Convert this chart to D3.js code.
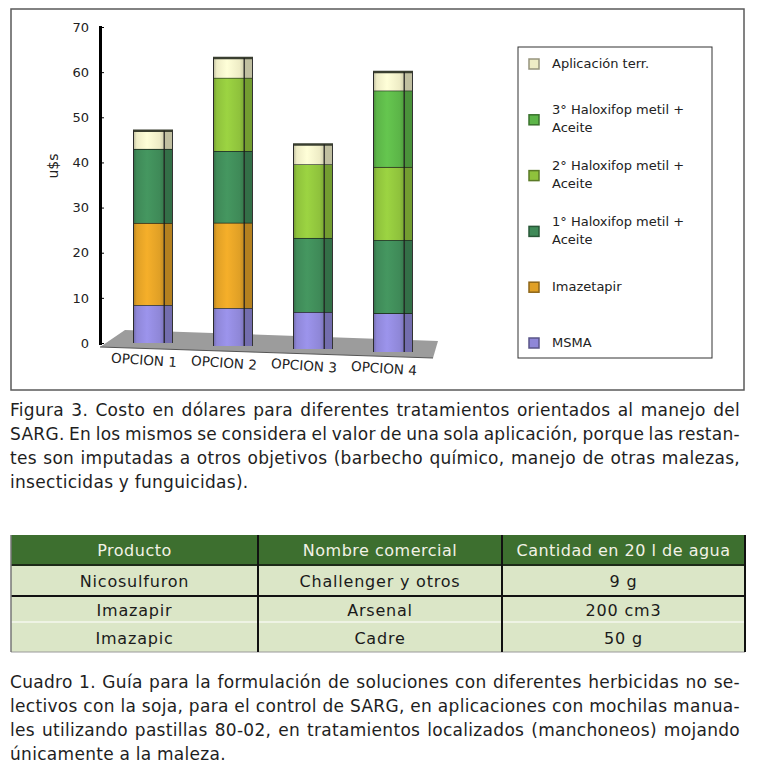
<!DOCTYPE html>
<html>
<head>
<meta charset="utf-8">
<script src="https://cdn.jsdelivr.net/npm/d3@7"></script>
<style>
  body { margin: 0; background: #fff; }
  svg { display: block; }
  .tick text { font-family: "DejaVu Sans", sans-serif; font-size: 13px; fill: #222; }
</style>
</head>
<body>
<svg id="fig" width="760" height="769"></svg>
<script>
// data (u$s per option, bottom to top of each stack)
var options = ['OPCION 1', 'OPCION 2', 'OPCION 3', 'OPCION 4'];
var msma       = [8.4, 8.4, 8.2, 8.6];
var imazetapir = [18.2, 18.9, 0, 0];
var halox1     = [16.4, 15.9, 16.4, 16.2];
var halox2     = [0, 16.2, 16.3, 16.2];
var halox3     = [0, 0, 0, 16.9];
var aplicacion = [4.0, 4.4, 4.4, 4.1];
var yTicks = [0, 10, 20, 30, 40, 50, 60, 70];

var seriesKeys = ['msma', 'imazetapir', 'halox1', 'halox2', 'halox3', 'aplicacion'];
var seriesLabels = {
  aplicacion: ['Aplicación terr.'],
  halox3: ['3° Haloxifop metil +', 'Aceite'],
  halox2: ['2° Haloxifop metil +', 'Aceite'],
  halox1: ['1° Haloxifop metil +', 'Aceite'],
  imazetapir: ['Imazetapir'],
  msma: ['MSMA']
};
var legendOrder = ['aplicacion', 'halox3', 'halox2', 'halox1', 'imazetapir', 'msma'];
var colors = {
  msma: '#8f87d8', imazetapir: '#e0a026', halox1: '#3f8a58',
  halox2: '#8fc23c', halox3: '#5cb548', aplicacion: '#eeecc6'
};

var tableHeader = ['Producto', 'Nombre comercial', 'Cantidad en 20 l de agua'];
var productos   = ['Nicosulfuron', 'Imazapir', 'Imazapic'];
var nombres     = ['Challenger y otros', 'Arsenal', 'Cadre'];
var cantidades  = ['9 g', '200 cm3', '50 g'];

var caption1 = [
  'Figura 3. Costo en dólares para diferentes tratamientos orientados al manejo del',
  'SARG. En los mismos se considera el valor de una sola aplicación, porque las restan-',
  'tes son imputadas a otros objetivos (barbecho químico, manejo de otras malezas,',
  'insecticidas y funguicidas).'
];
var caption2 = [
  'Cuadro 1. Guía para la formulación de soluciones con diferentes herbicidas no se-',
  'lectivos con la soja, para el control de SARG, en aplicaciones con mochilas manua-',
  'les utilizando pastillas 80-02, en tratamientos localizados (manchoneos) mojando',
  'únicamente a la maleza.'
];

var svg = d3.select('#fig');

// chart frame
svg.append('rect')
  .attr('x', 11).attr('y', 9).attr('width', 733).attr('height', 381)
  .attr('fill', '#fff').attr('stroke', '#5a5a5a').attr('stroke-width', 1.5);

var xScale = d3.scaleBand()
  .domain(options)
  .range([113, 433])
  .paddingInner(0.5)
  .paddingOuter(0.25);
var yScale = d3.scaleLinear()
  .domain([0, 70])
  .range([343, 27]);
var drop = 3; // floor perspective, each bar sits a bit lower

// floor
svg.append('polygon')
  .attr('points', '100,347 125,330 438,341 433,358')
  .attr('fill', '#9c9c9c');
svg.append('line')
  .attr('x1', 100).attr('y1', 347).attr('x2', 433).attr('y2', 358)
  .attr('stroke', '#555').attr('stroke-width', 1);

// y axis
var yAxis = d3.axisLeft(yScale)
  .tickValues(yTicks)
  .tickSizeInner(-4)
  .tickSizeOuter(0)
  .tickPadding(11);
var gy = svg.append('g')
  .attr('transform', 'translate(100,0)')
  .call(yAxis);
gy.select('.domain').attr('stroke', '#000').attr('stroke-width', 3).attr('stroke-linecap', 'square');
gy.selectAll('.tick line').attr('stroke', '#000');

svg.append('text')
  .attr('transform', 'translate(53,166) rotate(-90)')
  .attr('text-anchor', 'middle')
  .attr('dy', '0.35em')
  .style('font-family', '"DejaVu Sans", sans-serif')
  .style('font-size', '14px')
  .attr('fill', '#222')
  .text('u$s');

// gradients for cylinder look
var defs = svg.append('defs');
seriesKeys.forEach(function(k) {
  var c = d3.color(colors[k]);
  var g = defs.append('linearGradient').attr('id', 'grad-' + k)
    .attr('x1', '0%').attr('x2', '100%').attr('y1', '0%').attr('y2', '0%');
  g.append('stop').attr('offset', '0%').attr('stop-color', c.darker(0.7));
  g.append('stop').attr('offset', '12%').attr('stop-color', c);
  g.append('stop').attr('offset', '45%').attr('stop-color', c.brighter(0.25));
  g.append('stop').attr('offset', '85%').attr('stop-color', c);
  g.append('stop').attr('offset', '100%').attr('stop-color', c.darker(0.4));
});

// stacked data
var rows = options.map(function(o, i) {
  return {
    option: o, msma: msma[i], imazetapir: imazetapir[i], halox1: halox1[i],
    halox2: halox2[i], halox3: halox3[i], aplicacion: aplicacion[i]
  };
});
var stacked = d3.stack().keys(seriesKeys)(rows);

var bw = xScale.bandwidth();
var frontW = bw * 0.78;
var sideW = bw - frontW;

var layers = svg.selectAll('.layer')
  .data(stacked)
  .enter().append('g')
  .attr('class', 'layer');

var segs = layers.selectAll('.seg')
  .data(function(s) {
    return s.map(function(d, i) { return { key: s.key, i: i, y0: d[0], y1: d[1], option: d.data.option }; })
            .filter(function(d) { return d.y1 - d.y0 > 0; });
  })
  .enter().append('g')
  .attr('class', 'seg');

segs.append('rect')
  .attr('x', function(d) { return xScale(d.option); })
  .attr('y', function(d) { return yScale(d.y1) + d.i * drop; })
  .attr('width', frontW)
  .attr('height', function(d) { return yScale(d.y0) - yScale(d.y1); })
  .attr('fill', function(d) { return 'url(#grad-' + d.key + ')'; });

segs.append('rect')
  .attr('x', function(d) { return xScale(d.option) + frontW; })
  .attr('y', function(d) { return yScale(d.y1) + d.i * drop; })
  .attr('width', sideW)
  .attr('height', function(d) { return yScale(d.y0) - yScale(d.y1); })
  .attr('fill', function(d) { return d3.color(colors[d.key]).darker(0.6); });

// separator line at top of each segment
segs.append('line')
  .attr('x1', function(d) { return xScale(d.option); })
  .attr('x2', function(d) { return xScale(d.option) + bw; })
  .attr('y1', function(d) { return yScale(d.y1) + d.i * drop; })
  .attr('y2', function(d) { return yScale(d.y1) + d.i * drop; })
  .attr('stroke', function(d) { return d.key === 'aplicacion' ? '#3a3f30' : '#1c261c'; })
  .attr('stroke-width', function(d) { return d.key === 'aplicacion' ? 2.5 : 1.5; });

// edge lines of the cylinders
var totals = options.map(function(o, i) {
  return msma[i] + imazetapir[i] + halox1[i] + halox2[i] + halox3[i] + aplicacion[i];
});
function edge(cls, dx, color, w) {
  svg.selectAll('.' + cls)
    .data(options)
    .enter().append('line')
    .attr('class', cls)
    .attr('x1', function(d) { return xScale(d) + dx; })
    .attr('x2', function(d) { return xScale(d) + dx; })
    .attr('y1', function(d, i) { return yScale(totals[i]) + i * drop; })
    .attr('y2', function(d, i) { return yScale(0) + i * drop; })
    .attr('stroke', color)
    .attr('stroke-width', w);
}
edge('edgeM', frontW, '#1a1a1a', 1.2);
edge('edgeL', 0.5, '#2a2a2a', 1);
edge('edgeR', bw - 0.5, '#333', 1);

// x labels
svg.selectAll('.xlab')
  .data(options)
  .enter().append('text')
  .attr('class', 'xlab')
  .attr('transform', function(d, i) {
    return 'translate(' + (xScale(d) + bw / 2 - 9) + ',' + (360 + i * 2.8) + ') rotate(4)';
  })
  .attr('text-anchor', 'middle')
  .attr('dy', '0.35em')
  .style('font-family', '"DejaVu Sans", sans-serif')
  .style('font-size', '13.5px')
  .attr('fill', '#222')
  .text(function(d) { return d; });

// legend
svg.append('rect')
  .attr('x', 518).attr('y', 47).attr('width', 194).attr('height', 311)
  .attr('fill', '#fff').attr('stroke', '#333').attr('stroke-width', 1);

var legendY = d3.scalePoint().domain(legendOrder).range([64, 343]);
var items = svg.selectAll('.leg')
  .data(legendOrder)
  .enter().append('g')
  .attr('class', 'leg')
  .attr('transform', function(d) { return 'translate(529,' + legendY(d) + ')'; });
items.append('rect')
  .attr('x', 0).attr('y', -5).attr('width', 10).attr('height', 10)
  .attr('fill', function(d) { return colors[d]; })
  .attr('stroke', function(d) { return d3.color(colors[d]).darker(1.3); })
  .attr('stroke-width', 1.5);
items.each(function(d) {
  var lines = seriesLabels[d];
  var g = d3.select(this);
  lines.forEach(function(l, j) {
    g.append('text')
      .attr('x', 23)
      .attr('y', lines.length === 1 ? -1 : (j === 0 ? -10 : 8))
      .attr('dy', '0.35em')
      .style('font-family', '"DejaVu Sans", sans-serif')
      .style('font-size', '13px')
      .attr('fill', '#222')
      .text(l);
  });
});

// justified captions
function caption(lines, top) {
  var left = 10, right = 740;
  lines.forEach(function(line, li) {
    var y = top + li * 24;
    var words = line.split(' ');
    var t = svg.append('text')
      .attr('y', y)
      .style('font-family', '"DejaVu Sans", sans-serif')
      .style('font-size', '17px')
      .style('letter-spacing', '0.3px')
      .attr('fill', '#1e1e1e');
    var spans = words.map(function(w) { return t.append('tspan').text(w); });
    var widths = spans.map(function(s) { return s.node().getComputedTextLength(); });
    var total = d3.sum(widths);
    var last = li === lines.length - 1;
    var gap = last ? 5.5 : (right - left - total) / (words.length - 1);
    var x = left;
    spans.forEach(function(s, k) {
      s.attr('x', x).attr('y', y);
      x += widths[k] + gap;
    });
  });
}
caption(caption1, 416);

// table
var colX = [11, 258, 502, 745];
var rowY = [535, 565, 596, 622, 652];
var tbl = svg.append('g');
tbl.append('rect')
  .attr('x', colX[0]).attr('y', rowY[0]).attr('width', colX[3] - colX[0]).attr('height', rowY[1] - rowY[0])
  .attr('fill', '#3d6f2f');
tbl.append('rect')
  .attr('x', colX[0]).attr('y', rowY[1]).attr('width', colX[3] - colX[0]).attr('height', rowY[4] - rowY[1])
  .attr('fill', '#dbe6c7');
tbl.append('line').attr('x1', colX[0]).attr('x2', colX[3]).attr('y1', rowY[1]).attr('y2', rowY[1])
  .attr('stroke', '#1d2a18').attr('stroke-width', 2);
tbl.append('line').attr('x1', colX[0]).attr('x2', colX[3]).attr('y1', rowY[2]).attr('y2', rowY[2])
  .attr('stroke', '#111').attr('stroke-width', 2);
tbl.append('line').attr('x1', colX[0]).attr('x2', colX[3]).attr('y1', rowY[3]).attr('y2', rowY[3])
  .attr('stroke', '#eef3e4').attr('stroke-width', 2);
tbl.append('line').attr('x1', colX[0]).attr('x2', colX[3]).attr('y1', rowY[4]).attr('y2', rowY[4])
  .attr('stroke', '#9a9a9a').attr('stroke-width', 1);
tbl.append('line').attr('x1', colX[0]).attr('x2', colX[0]).attr('y1', rowY[0]).attr('y2', rowY[4])
  .attr('stroke', '#777').attr('stroke-width', 1.5);
[1, 2, 3].forEach(function(c) {
  tbl.append('line').attr('x1', colX[c]).attr('x2', colX[c]).attr('y1', rowY[0]).attr('y2', rowY[4])
    .attr('stroke', '#111').attr('stroke-width', 2);
});

var cellFont = '"DejaVu Sans", sans-serif';
tbl.selectAll('.th')
  .data(tableHeader)
  .enter().append('text')
  .attr('x', function(d, i) { return (colX[i] + colX[i + 1]) / 2; })
  .attr('y', (rowY[0] + rowY[1]) / 2)
  .attr('dy', '0.35em')
  .attr('text-anchor', 'middle')
  .style('font-family', cellFont)
  .style('font-size', '16px')
  .style('letter-spacing', '0.5px')
  .attr('fill', '#f2f2e6')
  .text(function(d) { return d; });

[productos, nombres, cantidades].forEach(function(col, c) {
  tbl.selectAll('.td' + c)
    .data(col)
    .enter().append('text')
    .attr('x', (colX[c] + colX[c + 1]) / 2)
    .attr('y', function(d, r) { return (rowY[r + 1] + rowY[r + 2]) / 2 + 1; })
    .attr('dy', '0.35em')
    .attr('text-anchor', 'middle')
    .style('font-family', cellFont)
    .style('font-size', '16px')
    .style('letter-spacing', '0.8px')
    .attr('fill', '#1a1a1a')
    .text(function(d) { return d; });
});

caption(caption2, 688);
</script>
</body>
</html>
